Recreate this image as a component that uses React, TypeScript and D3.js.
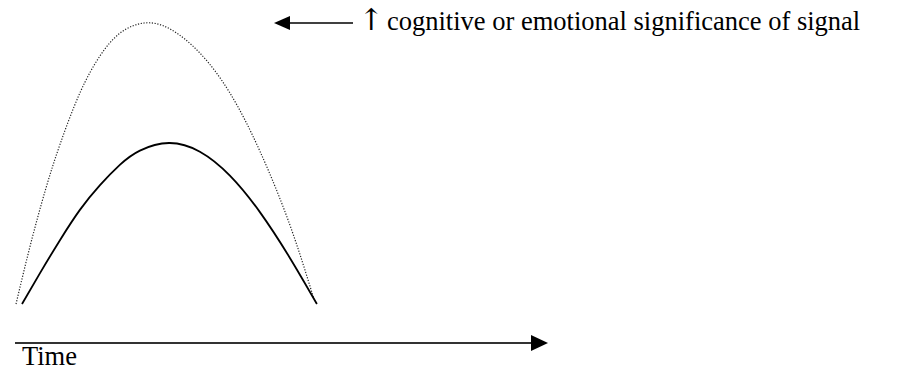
import React from "react";
import * as d3 from "d3";

// Time (arbitrary units) and signal value (arbitrary units)
const dottedTime = [0, 4.7, 9.7, 14.7, 21.3, 28, 34.7, 42.7, 51.3, 61.3, 71.3, 81.3, 91.3, 99.3];
const dottedValue = [0, 20.6, 40.2, 56.9, 75.1, 88.3, 96.4, 100, 97.9, 89.3, 75.1, 54.4, 28.1, 1.8];

const solidTime = [2, 8, 14.7, 21.3, 28, 34.7, 41.3, 51, 61.3, 71.3, 81.3, 91.3, 100.3];
const solidValue = [0, 11, 22.8, 33.5, 42.3, 49.6, 54.6, 57.3, 54.2, 45.7, 32.7, 16.4, 0];

const axisLabel = "Time";
const arrowSymbol = "↑";
const annotation = "cognitive or emotional significance of signal";

const W = 904;
const H = 371;
const FONT = "Liberation Serif, DejaVu Serif, serif";

export default function App() {
  const x = d3.scaleLinear().domain([0, 100]).range([16, 316]);
  const y = d3.scaleLinear().domain([0, 100]).range([304, 23]);

  const line = d3
    .line<[number, number]>()
    .x((d) => x(d[0]))
    .y((d) => y(d[1]))
    .curve(d3.curveNatural);

  const dotted: [number, number][] = dottedTime.map((t, i) => [t, dottedValue[i]]);
  const solid: [number, number][] = solidTime.map((t, i) => [t, solidValue[i]]);

  const axisY = 343;
  const axisX0 = 15;
  const axisX1 = 548;
  const topY = 23;
  const topTip = 274;
  const topEnd = 353;

  const textStyle: React.CSSProperties = { fontFamily: FONT, fontSize: "26.5px" };
  const arrowStyle: React.CSSProperties = {
    fontFamily: "DejaVu Serif, DejaVu Sans, serif",
    fontSize: "30px",
    fontWeight: 300,
  };

  return (
    <svg
      width={W}
      height={H}
      style={{ position: "absolute", left: 0, top: 0, background: "#fff" }}
    >
      <rect x={0} y={0} width={W} height={H} fill="#fff" />
      <path
        d={line(dotted) || ""}
        fill="none"
        stroke="#222"
        strokeWidth={1.2}
        strokeDasharray="1.2,1.6"
      />
      <path d={line(solid) || ""} fill="none" stroke="#000" strokeWidth={1.8} />

      {/* time axis */}
      <line x1={axisX0} y1={axisY} x2={axisX1 - 16} y2={axisY} stroke="#333" strokeWidth={2} />
      <polygon
        points={`${axisX1},${axisY} ${axisX1 - 17},${axisY - 8} ${axisX1 - 17},${axisY + 8}`}
        fill="#000"
      />
      <text x={22} y={365} style={textStyle} fill="#000">
        {axisLabel}
      </text>

      {/* top annotation arrow */}
      <line x1={topTip + 14} y1={topY} x2={topEnd} y2={topY} stroke="#000" strokeWidth={1.5} />
      <polygon
        points={`${topTip},${topY} ${topTip + 16},${topY - 7} ${topTip + 16},${topY + 7}`}
        fill="#000"
      />
      <text x={371} y={30} textAnchor="middle" style={arrowStyle} fill="#000">
        {arrowSymbol}
      </text>
      <text x={387} y={30} style={textStyle} fill="#000">
        {annotation}
      </text>
    </svg>
  );
}
